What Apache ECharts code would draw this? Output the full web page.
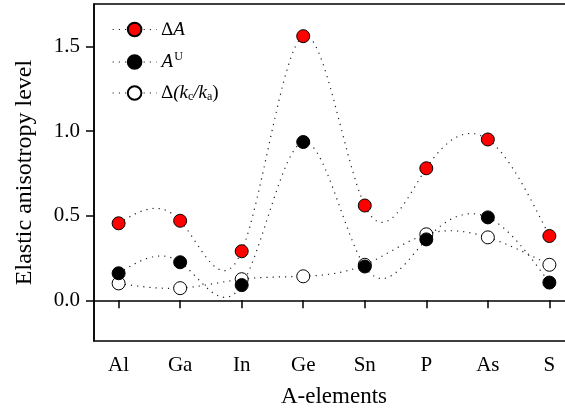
<!DOCTYPE html>
<html>
<head>
<meta charset="utf-8">
<script src="https://cdn.jsdelivr.net/npm/echarts@6/dist/echarts.min.js"></script>
<style>html,body{margin:0;padding:0;background:#fff;}#c{width:565px;height:409px;}</style>
</head>
<body>
<div id="c"></div>
<script>
const categories = ['Al', 'Ga', 'In', 'Ge', 'Sn', 'P', 'As', 'S'];
const deltaA = [0.455, 0.47, 0.29, 1.56, 0.56, 0.78, 0.95, 0.38];
const aU = [0.16, 0.225, 0.09, 0.935, 0.20, 0.36, 0.49, 0.105];
const deltaK = [0.10, 0.072, 0.125, 0.142, 0.21, 0.39, 0.372, 0.21];
const yTicks = [0, 0.5, 1.0, 1.5];
const seriesNames = ['dA', 'AU', 'dK'];

const font = 'Liberation Serif, Times New Roman, serif';
const xs = categories.map((c, i) => i + 1);
const pairs = arr => arr.map((v, i) => [xs[i], v]);

const dotted = { color: '#222', width: 1.2, type: [1.2, 5] };

// natural cubic spline through the pixel positions given by the axes
function splineRender(arr) {
  return function (params, api) {
    const i = params.dataIndex;
    const n = arr.length;
    if (i >= n - 1) return null;
    const pts = arr.map((v, j) => api.coord([xs[j], v]));
    const h = pts[1][0] - pts[0][0];
    const y = pts.map(p => p[1]);
    const M = new Array(n).fill(0);
    const a = [], b = [], c = [], d = [];
    for (let k = 1; k < n - 1; k++) {
      a.push(1); b.push(4); c.push(1);
      d.push(6 * (y[k + 1] - 2 * y[k] + y[k - 1]) / (h * h));
    }
    const m = d.length;
    for (let k = 1; k < m; k++) {
      const w = a[k] / b[k - 1];
      b[k] -= w * c[k - 1];
      d[k] -= w * d[k - 1];
    }
    const sol = new Array(m);
    sol[m - 1] = d[m - 1] / b[m - 1];
    for (let k = m - 2; k >= 0; k--) sol[k] = (d[k] - c[k] * sol[k + 1]) / b[k];
    for (let k = 0; k < m; k++) M[k + 1] = sol[k];
    const s = (y[i + 1] - y[i]) / h;
    const d0 = s - h * (2 * M[i] + M[i + 1]) / 6;
    const d1 = s + h * (M[i] + 2 * M[i + 1]) / 6;
    const x0 = pts[i][0], x1 = pts[i + 1][0];
    return {
      type: 'bezierCurve',
      shape: {
        x1: x0, y1: y[i], x2: x1, y2: y[i + 1],
        cpx1: x0 + (x1 - x0) / 3, cpy1: y[i] + d0 * (x1 - x0) / 3,
        cpx2: x1 - (x1 - x0) / 3, cpy2: y[i + 1] - d1 * (x1 - x0) / 3
      },
      style: { stroke: dotted.color, lineWidth: dotted.width, lineDash: dotted.type, fill: null },
      z2: 1
    };
  };
}

const chart = echarts.init(document.getElementById('c'), null, { renderer: 'canvas' });
chart.setOption({
  animation: false,
  backgroundColor: '#fff',
  textStyle: { fontFamily: font },
  grid: { left: 94, top: 4, bottom: 68, right: -9, outerBoundsMode: 'none', containLabel: false,
    show: true, borderColor: '#000', borderWidth: 1.5, backgroundColor: 'transparent' },
  legend: {
    data: seriesNames,
    left: 107, top: 15,
    orient: 'vertical',
    itemWidth: 44, itemHeight: 17, itemGap: 12,
    lineStyle: { color: '#222', width: 1.2, type: [1.2, 5], opacity: 1 },
    formatter: function (n) {
      if (n === 'dA') return '{i|∆A}';
      if (n === 'AU') return '{i|A}{sup|U}';
      return '{i|∆(k}{sub|c}{i|/k}{sub|a}{n|)}';
    },
    textStyle: {
      fontFamily: font, fontSize: 19, color: '#000',
      rich: {
        i: { fontFamily: font, fontStyle: 'italic', fontSize: 19, color: '#000' },
        n: { fontFamily: font, fontSize: 19, color: '#000' },
        sup: { fontFamily: font, fontSize: 12, color: '#000', padding: [0, 0, 10, 1] },
        sub: { fontFamily: font, fontSize: 12, color: '#000', padding: [8, 0, 0, 0] }
      }
    }
  },
  xAxis: {
    type: 'value', min: 0.6, max: 8.4,
    name: 'A-elements', nameLocation: 'middle', nameGap: 44,
    nameTextStyle: { fontFamily: font, fontSize: 23, color: '#000' },
    axisLine: { show: true, lineStyle: { color: '#000', width: 1.5 } },
    axisTick: { show: true, length: 8, customValues: xs, lineStyle: { color: '#000', width: 1.5 } },
    axisLabel: { customValues: xs, margin: 14, fontFamily: font, fontSize: 21, color: '#000',
      formatter: v => categories[Math.round(v) - 1] || '' },
    splitLine: { show: false }
  },
  yAxis: {
    type: 'value', min: -0.24, max: 1.75,
    name: 'Elastic anisotropy level', nameLocation: 'middle', nameGap: 57,
    nameTextStyle: { fontFamily: font, fontSize: 24, color: '#000' },
    axisLine: { show: true, lineStyle: { color: '#000', width: 1.5 } },
    axisTick: { show: true, length: 8, customValues: yTicks, lineStyle: { color: '#000', width: 1.5 } },
    axisLabel: { customValues: yTicks, margin: 14, fontFamily: font, fontSize: 21, color: '#000',
      formatter: v => v.toFixed(1) },
    splitLine: { show: false }
  },
  series: [
    { name: 'dA-curve', type: 'custom', data: pairs(deltaA), renderItem: splineRender(deltaA), z: 1, silent: true },
    { name: 'AU-curve', type: 'custom', data: pairs(aU), renderItem: splineRender(aU), z: 1, silent: true },
    { name: 'dK-curve', type: 'custom', data: pairs(deltaK), renderItem: splineRender(deltaK), z: 1, silent: true },
    { name: 'dA', type: 'line', data: pairs(deltaA), z: 4,
      symbol: 'circle', symbolSize: 13, lineStyle: { opacity: 0 },
      itemStyle: { color: '#ff0000', borderColor: '#000', borderWidth: 1 } },
    { name: 'AU', type: 'line', data: pairs(aU), z: 3,
      symbol: 'circle', symbolSize: 13, lineStyle: { opacity: 0 },
      itemStyle: { color: '#000', borderColor: '#000', borderWidth: 1 } },
    { name: 'dK', type: 'line', data: pairs(deltaK), z: 2,
      symbol: 'circle', symbolSize: 13, lineStyle: { opacity: 0 },
      itemStyle: { color: '#fff', borderColor: '#000', borderWidth: 1 } }
  ]
});
</script>
</body>
</html>
